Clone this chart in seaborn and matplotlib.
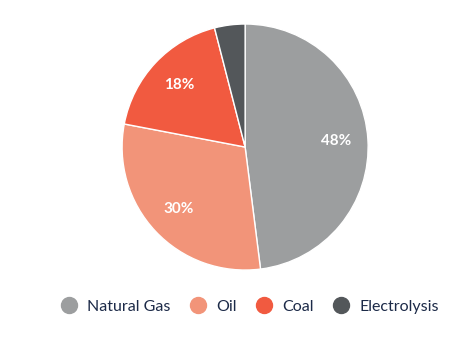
import matplotlib
matplotlib.use("Agg")
import matplotlib.pyplot as plt
import seaborn as sns
import numpy as np
from matplotlib.lines import Line2D

categories = ["Natural Gas", "Oil", "Coal", "Electrolysis"]
values = [48, 30, 18, 4]
labels_pct = ["48%", "30%", "18%", ""]
colors = ["#9c9e9f", "#f29479", "#f15a40", "#53575a"]

sns.set_theme(style="white")
plt.rcParams["font.family"] = ["Lato", "DejaVu Sans"]

fig = plt.figure(figsize=(4.66, 3.48), dpi=100)
ax = fig.add_axes([0.262, 0.224, 0.528, 0.707])
palette = sns.color_palette(colors)
wedges, _ = ax.pie(values, colors=palette, startangle=90, counterclock=False,
                   wedgeprops=dict(edgecolor="white", linewidth=1.0))
for w, lab in zip(wedges, labels_pct):
    if not lab:
        continue
    ang = np.deg2rad((w.theta1 + w.theta2) / 2)
    ax.text(0.74 * np.cos(ang), 0.74 * np.sin(ang), lab, ha="center", va="center",
            color="white", fontsize=11, fontweight="bold")
ax.set_aspect("equal")
ax.set_xlim(-1, 1)
ax.set_ylim(-1, 1)

handles = [Line2D([0], [0], marker="o", linestyle="", markersize=11.5,
                  markerfacecolor=c, markeredgecolor=c) for c in colors]
fig.legend(handles, categories, loc="center", bbox_to_anchor=(0.528, 0.118),
           ncol=4, frameon=False, fontsize=11.5, handletextpad=0.15,
           columnspacing=0.7, labelcolor="#1c2a48")
fig.savefig("out.png", dpi=100)
